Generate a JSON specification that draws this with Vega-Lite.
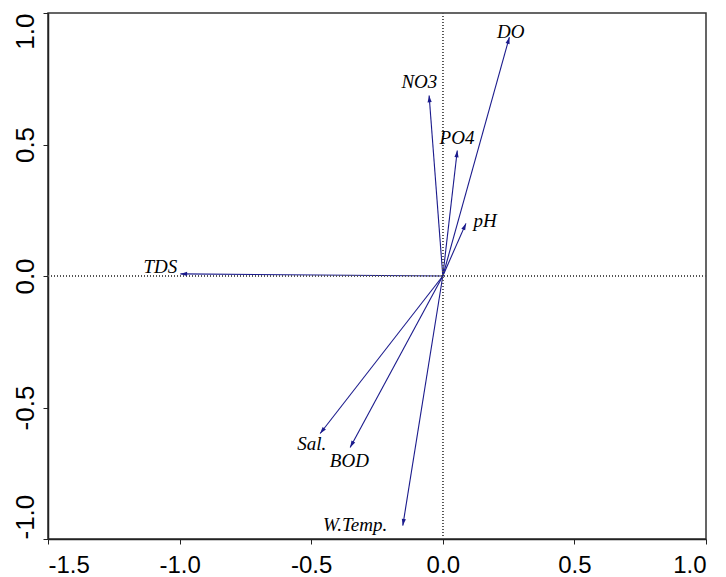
{
  "$schema": "https://vega.github.io/schema/vega-lite/v6.json",
  "autosize": "none",
  "width": 658,
  "height": 526,
  "padding": {"left": 48, "top": 13, "right": 20, "bottom": 38},
  "background": "white",
  "config": {
    "view": {"stroke": "#333333", "strokeWidth": 1.5},
    "axis": {"grid": false, "title": null, "domainColor": "#222222", "domainWidth": 1.5, "tickColor": "#222222", "tickWidth": 1, "tickSize": 5, "labelFont": "Liberation Sans", "labelColor": "black"}
  },
  "data": {
    "values": [
      {"var": "DO", "x": 0.253, "y": 0.908, "lx": 0.258, "ly": 0.927},
      {"var": "NO3", "x": -0.052, "y": 0.686, "lx": -0.089, "ly": 0.737},
      {"var": "PO4", "x": 0.055, "y": 0.477, "lx": 0.054, "ly": 0.524},
      {"var": "pH", "x": 0.088, "y": 0.2, "lx": 0.161, "ly": 0.208},
      {"var": "TDS", "x": -0.997, "y": 0.008, "lx": -1.073, "ly": 0.033},
      {"var": "Sal.", "x": -0.466, "y": -0.599, "lx": -0.498, "ly": -0.638},
      {"var": "BOD", "x": -0.352, "y": -0.652, "lx": -0.355, "ly": -0.705},
      {"var": "W.Temp.", "x": -0.152, "y": -0.949, "lx": -0.333, "ly": -0.945}
    ]
  },
  "layer": [
    {
      "mark": {"type": "rule", "color": "#1a1a8c", "strokeWidth": 1.1},
      "encoding": {
        "x": {"field": "x", "type": "quantitative", "scale": {"domain": [-1.5, 1.0], "nice": false, "zero": false}, "axis": {"values": [-1.5, -1.0, -0.5, 0, 0.5, 1.0], "labelExpr": "replace(format(datum.value, '.1f'), '\u2212', '-')", "labelFontSize": 24, "labelPadding": 9}},
        "y": {"field": "y", "type": "quantitative", "scale": {"domain": [-1.0, 1.0], "nice": false, "zero": false}, "axis": {"values": [-1.0, -0.5, 0, 0.5, 1.0], "labelExpr": "replace(format(datum.value, '.1f'), '\u2212', '-')", "labelFontSize": 26, "labelAngle": -90, "labelAlign": {"condition": [{"test": "datum.value >= 1", "value": "right"}, {"test": "datum.value <= -1", "value": "left"}], "value": "center"}, "labelBaseline": "bottom", "labelPadding": 5}},
        "x2": {"datum": 0},
        "y2": {"datum": 0}
      }
    },
    {
      "mark": {"type": "rule", "color": "#555555", "strokeDash": [1, 2], "strokeWidth": 1},
      "encoding": {"x": {"datum": 0, "type": "quantitative"}}
    },
    {
      "mark": {"type": "rule", "color": "#555555", "strokeDash": [1, 2], "strokeWidth": 1},
      "encoding": {"y": {"datum": 0, "type": "quantitative"}}
    },
    {
      "transform": [{"calculate": "atan2(datum.x, datum.y) * 180 / PI", "as": "ang"}],
      "mark": {"type": "point", "shape": "M0,0L-0.5,1.6L0.5,1.6Z", "filled": true, "color": "#1a1a8c", "opacity": 1, "size": 70},
      "encoding": {
        "x": {"field": "x", "type": "quantitative"},
        "y": {"field": "y", "type": "quantitative"},
        "angle": {"field": "ang", "type": "quantitative", "scale": null}
      }
    },
    {
      "mark": {"type": "text", "font": "Liberation Serif", "fontStyle": "italic", "fontSize": 19, "color": "black", "align": "center", "baseline": "middle"},
      "encoding": {
        "x": {"field": "lx", "type": "quantitative"},
        "y": {"field": "ly", "type": "quantitative"},
        "text": {"field": "var"}
      }
    }
  ]
}
